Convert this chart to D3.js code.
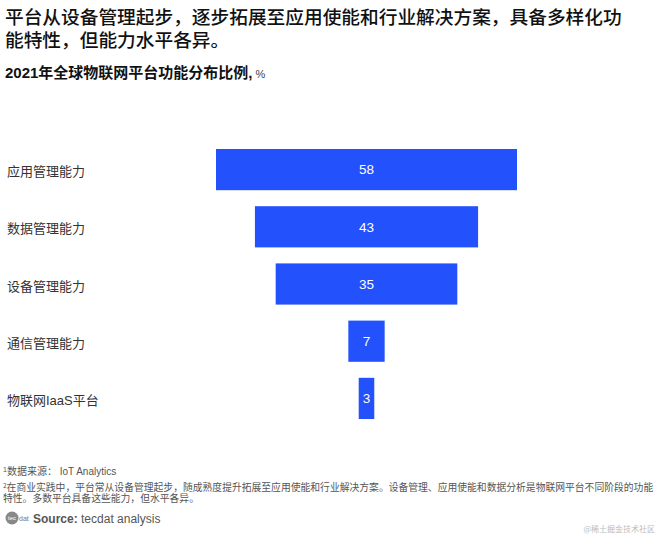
<!DOCTYPE html>
<html><head><meta charset="utf-8">
<script src="https://cdn.jsdelivr.net/npm/d3@7"></script>
<style>
body{margin:0;background:#fff;}
svg{display:block;font-family:"Liberation Sans","Noto Sans CJK SC",sans-serif;}
</style></head>
<body>
<svg id="c" width="660" height="537"></svg>
<script>
const categories = ["应用管理能力","数据管理能力","设备管理能力","通信管理能力","物联网IaaS平台"];
const values = [58, 43, 35, 7, 3];
const titleLines = ["平台从设备管理起步，逐步拓展至应用使能和行业解决方案，具备多样化功","能特性，但能力水平各异。"];
const subtitle = "2021年全球物联网平台功能分布比例";
const note1 = "数据来源： IoT Analytics";
const note2Lines = ["在商业实践中，平台常从设备管理起步，随成熟度提升拓展至应用使能和行业解决方案。设备管理、应用使能和数据分析是物联网平台不同阶段的功能","特性。多数平台具备这些能力，但水平各异。"];

const svg = d3.select("#c");
const cjk = '"Noto Sans CJK SC",sans-serif';

// Title
svg.append("g").selectAll("text").data(titleLines).join("text")
  .attr("x", 5).attr("y", (d,i)=>24 + i*22.5)
  .attr("font-family", cjk).attr("font-size", 18.7).attr("font-weight", 500)
  .attr("fill", "#111").text(d=>d);

// Subtitle
const st = svg.append("text").attr("x", 5).attr("y", 78)
  .attr("font-family", '"Liberation Sans","Noto Sans CJK SC",sans-serif')
  .attr("font-size", 15).attr("font-weight", 700).attr("fill", "#111");
st.append("tspan").text(subtitle + ",");
st.append("tspan").attr("font-size", 11).attr("font-weight", 400).attr("fill","#444").text(" %");

// Scales
const cx = 366.5;
const x = d3.scaleLinear().domain([0, 58]).range([0, 301]);
const y = d3.scaleBand().domain(categories).range([149, 419]).paddingInner(0.28).paddingOuter(0);

const g = svg.append("g");
g.selectAll("rect").data(values).join("rect")
  .attr("x", d => cx - x(d)/2)
  .attr("y", (d,i) => y(categories[i]))
  .attr("width", d => x(d))
  .attr("height", y.bandwidth())
  .attr("fill", "#2351fb");

g.selectAll("text.v").data(values).join("text").attr("class","v")
  .attr("x", cx)
  .attr("y", (d,i) => y(categories[i]) + y.bandwidth()/2)
  .attr("dy", "0.36em")
  .attr("text-anchor", "middle")
  .attr("font-size", 13.5).attr("fill", "#fff")
  .text(d => d);

// Category labels
g.selectAll("text.c").data(categories).join("text").attr("class","c")
  .attr("x", 7)
  .attr("y", d => y(d) + y.bandwidth()/2 + 2)
  .attr("dy", "0.36em")
  .attr("font-size", 13).attr("fill", "#333")
  .attr("font-family", '"Liberation Sans","Noto Sans CJK SC",sans-serif')
  .text(d => d);

// Footnotes
const f1 = svg.append("text").attr("x", 3).attr("y", 475).attr("font-size", 10).attr("fill", "#555")
  .attr("font-family", '"Liberation Sans","Noto Sans CJK SC",sans-serif');
f1.append("tspan").attr("font-size", 7).attr("dy", -3).text("1");
f1.append("tspan").attr("dy", 3).text(note1);

const f2 = svg.append("text").attr("x", 3).attr("y", 491).attr("font-size", 9.8).attr("fill", "#555")
  .attr("font-family", cjk);
f2.append("tspan").attr("font-size", 6.5).attr("dy", -3).text("2");
f2.append("tspan").attr("dy", 3).text(note2Lines[0]);
svg.append("text").attr("x", 3).attr("y", 502).attr("font-size", 9.8).attr("fill", "#555")
  .attr("font-family", cjk).text(note2Lines[1]);

// Source with logo
svg.append("circle").attr("cx", 12).attr("cy", 518).attr("r", 6.5).attr("fill", "#888");
svg.append("text").attr("x", 12).attr("y", 520).attr("text-anchor","middle").attr("font-size", 6).attr("fill","#fff").text("tec");
svg.append("text").attr("x", 19).attr("y", 521).attr("font-size", 7).attr("fill","#777").text("dat");
const src = svg.append("text").attr("x", 33).attr("y", 523).attr("font-size", 12).attr("fill", "#555");
src.append("tspan").attr("font-weight", 700).text("Source:");
src.append("tspan").text(" tecdat analysis");

// Watermark
svg.append("text").attr("x", 655).attr("y", 532).attr("text-anchor","end")
  .attr("font-size", 8).attr("fill", "#bbb").attr("font-family", cjk).text("@稀土掘金技术社区");
</script>
</body></html>
